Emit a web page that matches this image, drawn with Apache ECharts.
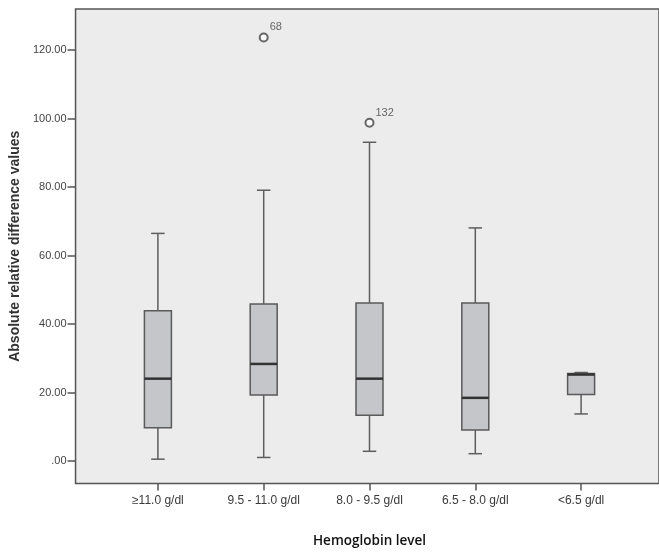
<!DOCTYPE html>
<html>
<head>
<meta charset="utf-8">
<script src="https://cdn.jsdelivr.net/npm/echarts@6/dist/echarts.min.js"></script>
<style>
    html, body { margin: 0; padding: 0; background: #fff; }
    #chart { width: 659px; height: 555px; }
</style>
</head>
<body>
<div id="chart"></div>
<script>
// hemoglobin groups
const categories = ['≥11.0 g/dl', '9.5 - 11.0 g/dl', '8.0 - 9.5 g/dl', '6.5 - 8.0 g/dl', '<6.5 g/dl'];
// box statistics
const mins    = [0.6, 1.1, 2.9, 2.2, 13.8];
const q1s     = [9.8, 19.3, 13.4, 9.1, 19.5];
const medians = [24.1, 28.4, 24.1, 18.5, 25.3];
const q3s     = [43.9, 45.9, 46.2, 46.2, 25.6];
const maxs    = [66.5, 79.1, 93.1, 68.1, 25.9];
// outliers (case numbers as labels)
const outlierCats   = ['9.5 - 11.0 g/dl', '8.0 - 9.5 g/dl'];
const outlierValues = [123.7, 98.8];
const outlierIds    = ['68', '132'];
const yTicks = [0, 20, 40, 60, 80, 100, 120];

const yMin = -6.5, yMax = 132.0;
const axisFont = 'Liberation Sans, Arial, sans-serif';

const boxData = categories.map((c, i) => [i, mins[i], q1s[i], medians[i], q3s[i], maxs[i]]);
const outlierData = outlierCats.map((c, i) => [categories.indexOf(c), outlierValues[i], outlierIds[i]]);

const chart = echarts.init(document.getElementById('chart'));

//画箱线
const renderBox = (params, api) => {
    const x = api.value(0);
    const lo = api.coord([x, api.value(1)]);
    const q1 = api.coord([x, api.value(2)]);
    const md = api.coord([x, api.value(3)]);
    const q3 = api.coord([x, api.value(4)]);
    const hi = api.coord([x, api.value(5)]);
    const bw = api.size([1, 0])[0] * 0.255;
    const cx = lo[0];
    const cap = bw / 4;
    const line = {stroke: '#5e5e5e', lineWidth: 1.5};
    return {
        type: 'group',
        children: [
            {type: 'line', shape: {x1: cx, y1: q3[1], x2: cx, y2: hi[1]}, style: line},
            {type: 'line', shape: {x1: cx, y1: q1[1], x2: cx, y2: lo[1]}, style: line},
            {type: 'line', shape: {x1: cx - cap, y1: hi[1], x2: cx + cap, y2: hi[1]}, style: line},
            {type: 'line', shape: {x1: cx - cap, y1: lo[1], x2: cx + cap, y2: lo[1]}, style: line},
            {type: 'rect', shape: {x: cx - bw / 2, y: q3[1], width: bw, height: q1[1] - q3[1]},
                style: {fill: '#c5c6c9', stroke: '#5a5a5a', lineWidth: 1.5}},
            {type: 'line', shape: {x1: cx - bw / 2, y1: md[1], x2: cx + bw / 2, y2: md[1]},
                style: {stroke: '#333', lineWidth: 2.5}}
        ]
    };
};

const option = {
    animation: false,
    grid: [
        {left: 105, right: 25, top: 9, bottom: 71.5},
        {left: 75.5, right: -6, top: 9, bottom: 71.5, show: true,
            backgroundColor: '#ececec', borderColor: '#555', borderWidth: 1.5}
    ],
    xAxis: [
        {
            type: 'category', gridIndex: 0, data: categories, boundaryGap: true,
            axisLine: {show: false, onZero: false},
            axisTick: {show: true, alignWithLabel: true, length: 7, lineStyle: {color: '#555', width: 1.5}},
            axisLabel: {color: '#3a3a3a', fontSize: 12, fontFamily: axisFont, margin: 11},
            name: 'Hemoglobin level', nameLocation: 'middle', nameGap: 51,
            nameTextStyle: {fontFamily: 'Open Sans, sans-serif', fontWeight: 600, fontSize: 13.5, color: '#111'}
        },
        {type: 'value', gridIndex: 1, show: false, min: 0, max: 1}
    ],
    yAxis: [
        {type: 'value', gridIndex: 0, show: false, min: yMin, max: yMax},
        {
            type: 'value', gridIndex: 1, min: yMin, max: yMax,
            axisLine: {show: false, onZero: false},
            splitLine: {show: false},
            axisTick: {show: true, length: 8, customValues: yTicks, lineStyle: {color: '#555', width: 1.5}},
            axisLabel: {
                customValues: yTicks, color: '#444', fontSize: 11, fontFamily: axisFont, margin: 9,
                formatter: v => v === 0 ? '.00' : v.toFixed(2)
            },
            name: 'Absolute relative difference values', nameLocation: 'middle', nameGap: 50,
            nameTextStyle: {fontFamily: axisFont, fontWeight: 'bold', fontSize: 14, color: '#333'}
        }
    ],
    series: [
        {
            type: 'custom', xAxisIndex: 0, yAxisIndex: 0,
            renderItem: renderBox,
            encode: {x: 0, y: [1, 2, 3, 4, 5]},
            data: boxData
        },
        {
            type: 'scatter', xAxisIndex: 0, yAxisIndex: 0,
            symbol: 'emptyCircle', symbolSize: 8,
            itemStyle: {color: '#444', borderColor: '#444', borderWidth: 1.5},
            label: {
                show: true, position: 'right', distance: 1, offset: [0, -10],
                formatter: p => p.value[2], color: '#444', fontSize: 11, fontFamily: axisFont
            },
            data: outlierData
        }
    ]
};

chart.setOption(option);
</script>
</body>
</html>
